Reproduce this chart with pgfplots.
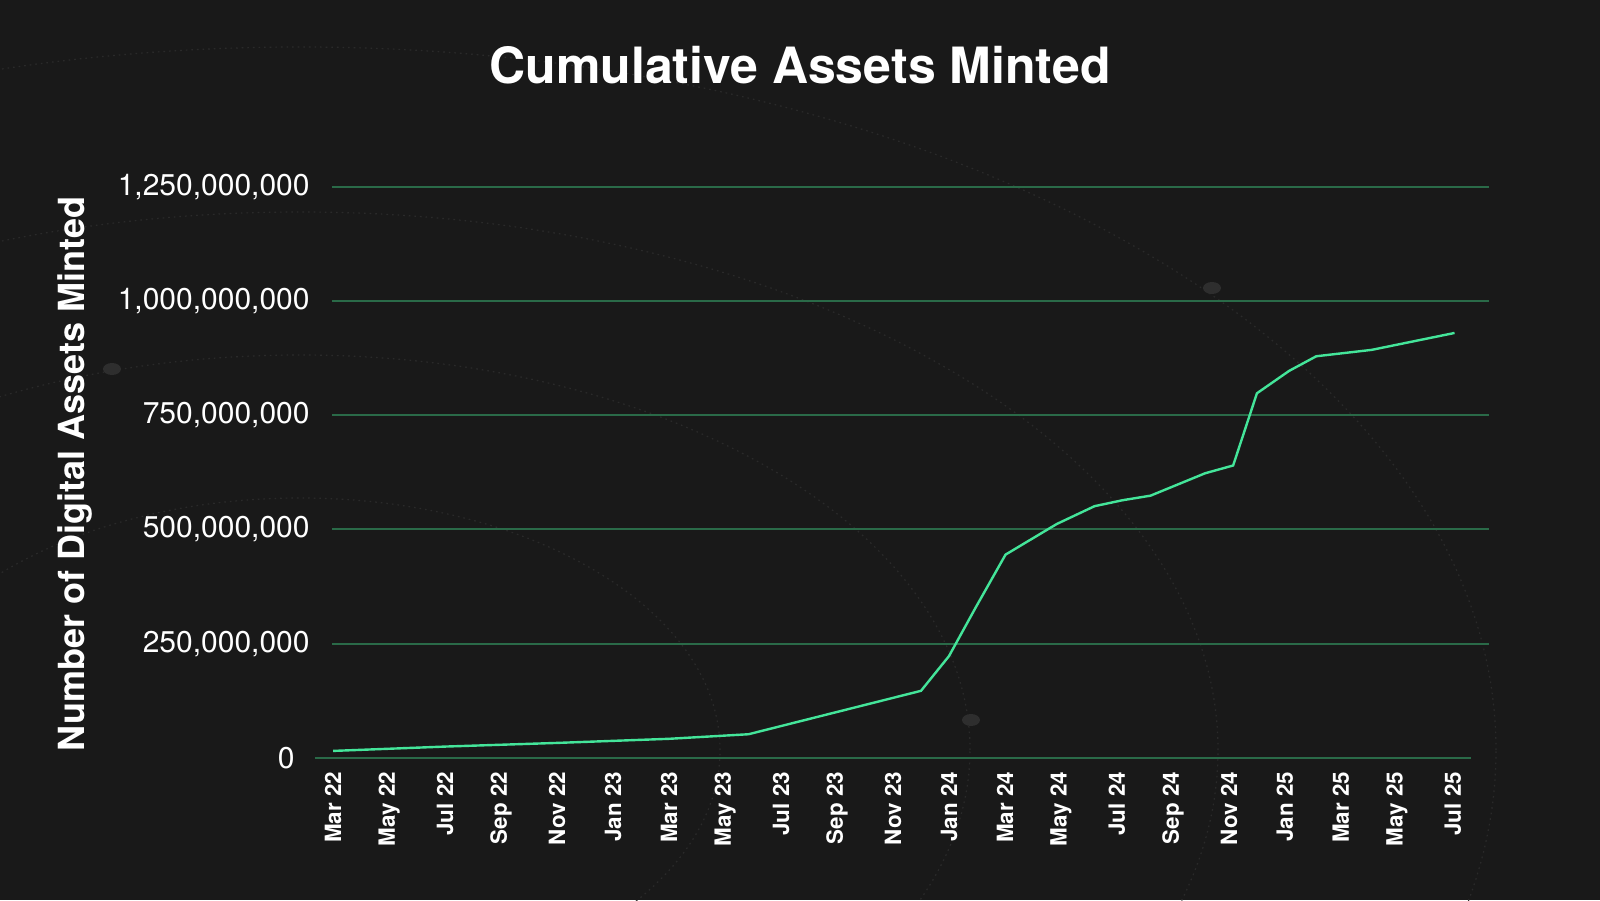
\documentclass[border=0pt]{standalone}
\usepackage{fontspec}
\setmainfont{TeX Gyre Heros}
\usepackage{pgfplots}
\pgfplotsset{compat=1.18}

\definecolor{bg}{HTML}{191919}
\definecolor{arcc}{HTML}{2A2A2A}
\definecolor{dotc}{HTML}{2E2E2E}
\definecolor{gridc}{HTML}{2A6A48}
\definecolor{mint}{HTML}{44E59A}

\begin{document}
\begin{tikzpicture}
\useasboundingbox (-166pt,-71pt) rectangle (634pt,379pt);
\fill[bg] (-166pt,-71pt) rectangle (634pt,379pt);

% faint decorative rings behind the chart
\begin{scope}
\clip (-166pt,-71pt) rectangle (634pt,379pt);
\foreach \a/\b in {210/126,335/197.5,459/269,598/351.5}
  \draw[arcc, line width=0.6pt, dash pattern=on 0.8pt off 2pt] (-16pt,4pt) ellipse ({\a pt} and {\b pt});
\fill[dotc] (-110pt,194.5pt) ellipse (4.5pt and 3pt);
\fill[dotc] (440pt,235pt) ellipse (4.5pt and 3pt);
\fill[dotc] (319.5pt,19pt) ellipse (4.5pt and 3pt);
\end{scope}

\node[anchor=base, text=white, font=\fontsize{25}{30}\selectfont\bfseries] at (234pt,337.35pt) {Cumulative Assets Minted};
\node[rotate=90, anchor=base, text=white, font=\fontsize{18}{21}\selectfont\bfseries] at (-123.5pt,142pt) {Number of Digital Assets Minted};

\begin{axis}[
width=578.5pt,
height=285.65pt,
scale only axis,
xmin=-0.04, xmax=41.29,
ymin=0, ymax=1.25e9,
axis x line*=bottom,
axis y line*=left,
y axis line style={draw=none},
x axis line style={draw=gridc, line width=1pt, shorten <=-8.5pt, shorten >=9pt},
major tick length=0pt,
xtick={0,2,...,40},
xticklabels={Mar 22,May 22,Jul 22,Sep 22,Nov 22,Jan 23,Mar 23,May 23,Jul 23,Sep 23,Nov 23,Jan 24,Mar 24,May 24,Jul 24,Sep 24,Nov 24,Jan 25,Mar 25,May 25,Jul 25},
xticklabel style={rotate=90, anchor=east, inner sep=0pt, text=white, font=\fontsize{11.2}{13}\selectfont\bfseries},
xticklabel shift=6.8pt,
ytick={250e6,500e6,750e6,1000e6,1250e6},
extra y ticks={0},
extra y tick style={grid=none, yticklabel style={xshift=-7.5pt}},
scaled y ticks=false,
yticklabel style={anchor=east, inner sep=0pt, text=white, font=\fontsize{15}{17}\selectfont,
  /pgf/number format/fixed, /pgf/number format/precision=0,
  /pgf/number format/1000 sep={,}, /pgf/number format/assume math mode=true},
yticklabel shift=11pt,
ymajorgrids,
major grid style={draw=gridc, line width=1pt},
]
\addplot[mint, line width=1.2pt] coordinates {
(0,15.5e6) (4,25e6) (8,33e6) (12,42e6) (14.84,52e6)
(21.0,147e6) (22.0,223e6) (22.96,330e6) (24.02,445e6)
(25.85,512e6) (27.2,551e6) (28.2,564e6) (29.2,574e6)
(31.15,623e6) (32.15,640e6) (33.0,798e6) (34.15,847e6)
(35.12,879e6) (37.1,893e6) (40.06,930e6)
};
\end{axis}
\end{tikzpicture}
\end{document}
